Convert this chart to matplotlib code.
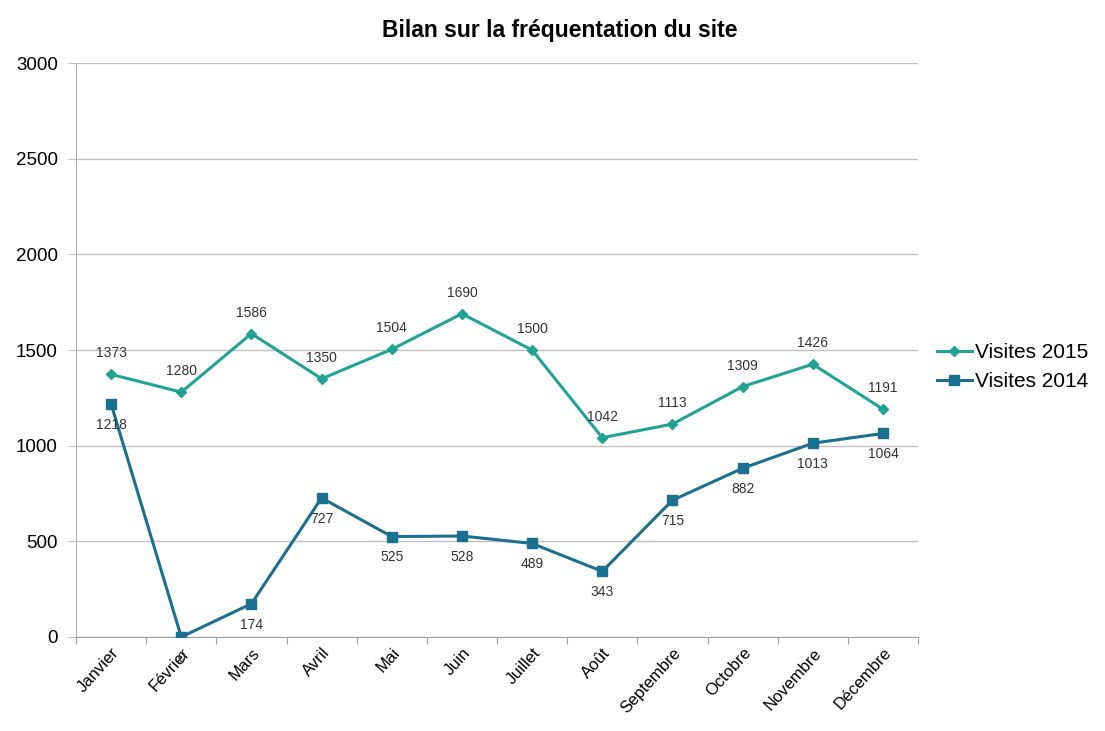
import matplotlib.pyplot as plt
from matplotlib import rcParams

months = ["Janvier", "Février", "Mars", "Avril", "Mai", "Juin", "Juillet",
          "Août", "Septembre", "Octobre", "Novembre", "Décembre"]
visites_2015 = [1373, 1280, 1586, 1350, 1504, 1690, 1500, 1042, 1113, 1309, 1426, 1191]
visites_2014 = [1218, 0, 174, 727, 525, 528, 489, 343, 715, 882, 1013, 1064]

if __name__ == '__main__':
    rcParams["font.family"] = ["Liberation Sans", "DejaVu Sans"]
    fig = plt.figure(figsize=(11.05, 7.31), dpi=100)
    ax = fig.add_axes([0.0688, 0.1286, 0.762, 0.785])

    x = list(range(len(months)))
    c15 = "#21a394"
    c14 = "#1b6f8f"

    ax.plot(x, visites_2015, color=c15, lw=2.2, marker='D', ms=5,
            label="Visites 2015", zorder=3)
    ax.plot(x, visites_2014, color=c14, lw=2.2, marker='s', ms=7,
            label="Visites 2014", zorder=3)

    # data labels
    for xi, v in zip(x, visites_2015):
        ax.annotate(str(v), (xi, v), xytext=(0, 10), textcoords='offset points',
                    ha='center', va='bottom', fontsize=10, color='#333333')
    for xi, v in zip(x, visites_2014):
        ax.annotate(str(v), (xi, v), xytext=(0, -10), textcoords='offset points',
                    ha='center', va='top', fontsize=10, color='#333333')

    ax.set_xlim(-0.5, len(months) - 0.5)
    ax.set_ylim(0, 3000)
    ax.set_yticks(range(0, 3001, 500))
    ax.yaxis.grid(True, color='#c0c0c0', lw=1)
    ax.set_axisbelow(True)

    # category ticks between labels, as in the original
    ax.set_xticks([i - 0.5 for i in range(len(months) + 1)], minor=False)
    ax.set_xticklabels([])
    ax.set_xticks(x, minor=True)
    ax.set_xticklabels(months, minor=True, rotation=48, ha='right',
                       rotation_mode='anchor', fontsize=12)
    ax.tick_params(axis='x', which='minor', length=0, pad=6)
    ax.tick_params(axis='x', which='major', length=5, color='#a0a0a0')
    ax.tick_params(axis='y', length=6, color='#c0c0c0', labelsize=13.5, pad=7)

    for s in ['top', 'right']:
        ax.spines[s].set_visible(False)
    ax.spines['left'].set_color('#b0b0b0')
    ax.spines['bottom'].set_color('#a0a0a0')

    fig.text(0.507, 0.958, "Bilan sur la fréquentation du site", fontsize=16.5,
             fontweight='bold', ha='center', va='center')
    ax.legend(loc='center left', bbox_to_anchor=(1.0, 0.47), frameon=False,
              fontsize=15, handlelength=1.7, handletextpad=0.15, labelspacing=0.5)

    fig.savefig("out.png", dpi=100)
